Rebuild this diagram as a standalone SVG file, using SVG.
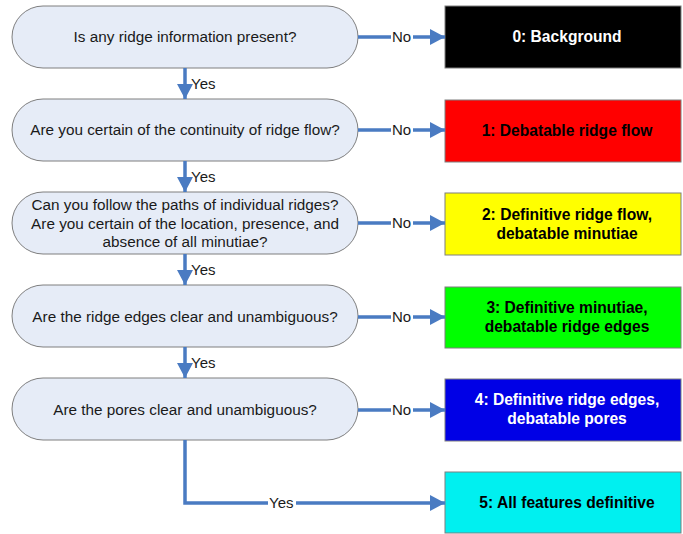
<svg xmlns="http://www.w3.org/2000/svg" width="683" height="534" viewBox="0 0 683 534">
<style>
.pill{fill:#E6ECF7;stroke:#7F7F7F;stroke-width:1}
.q{font-family:"Liberation Sans",Arial,sans-serif;font-size:15.3px;fill:#1a1a1a;text-anchor:middle}
.box{stroke:#7F7F7F;stroke-width:1}
.b{font-family:"Liberation Sans",Arial,sans-serif;font-size:15.6px;font-weight:bold;text-anchor:middle}
.c{fill:none;stroke:#4A7BC2;stroke-width:3.5}
.lab{font-family:"Liberation Sans",Arial,sans-serif;font-size:15px;fill:#1a1a1a}
</style>
<defs>
<marker id="ah" markerUnits="userSpaceOnUse" markerWidth="16" markerHeight="16" viewBox="0 0 16 16" refX="15" refY="8" orient="auto">
<path d="M0,0 L15,8 L0,16 Z" fill="#4A7BC2"/>
</marker>
</defs>
<g id="q1"><rect class="pill" x="12" y="6" width="346" height="62" rx="31"/><text class="q" x="185" y="42">Is any ridge information present?</text></g>
<g id="q2"><rect class="pill" x="12" y="99" width="346" height="62" rx="31"/><text class="q" x="185" y="135">Are you certain of the continuity of ridge flow?</text></g>
<g id="q3"><rect class="pill" x="12" y="192" width="346" height="62" rx="31"/><text class="q" x="185" y="210">Can you follow the paths of individual ridges?</text><text class="q" x="185" y="228.5">Are you certain of the location, presence, and</text><text class="q" x="185" y="247">absence of all minutiae?</text></g>
<g id="q4"><rect class="pill" x="12" y="285" width="346" height="62" rx="31"/><text class="q" x="185" y="322">Are the ridge edges clear and unambiguous?</text></g>
<g id="q5"><rect class="pill" x="12" y="378" width="346" height="62" rx="31"/><text class="q" x="185" y="415">Are the pores clear and unambiguous?</text></g>
<g id="r0"><rect class="box" x="445" y="6" width="236" height="62" fill="#000000"/><text class="b" x="567" y="42" fill="#ffffff">0: Background</text></g>
<g id="r1"><rect class="box" x="445" y="100" width="236" height="62" fill="#FF0000"/><text class="b" x="567" y="136" fill="#000000">1: Debatable ridge flow</text></g>
<g id="r2"><rect class="box" x="445" y="193" width="236" height="62" fill="#FFFF00"/><text class="b" x="567" y="220" fill="#000000">2: Definitive ridge flow,</text><text class="b" x="567" y="239" fill="#000000">debatable minutiae</text></g>
<g id="r3"><rect class="box" x="445" y="287" width="236" height="61" fill="#00FF00"/><text class="b" x="567" y="313" fill="#000000">3: Definitive minutiae,</text><text class="b" x="567" y="332" fill="#000000">debatable ridge edges</text></g>
<g id="r4"><rect class="box" x="445" y="379" width="236" height="62" fill="#0000E6"/><text class="b" x="567" y="405" fill="#ffffff">4: Definitive ridge edges,</text><text class="b" x="567" y="424" fill="#ffffff">debatable pores</text></g>
<g id="r5"><rect class="box" x="445" y="472" width="236" height="61" fill="#00F0F0"/><text class="b" x="567" y="508" fill="#000000">5: All features definitive</text></g>
<g id="connectors">
<path class="c" d="M358,37 H391 M413,37 H445" marker-end="url(#ah)"/>
<path class="c" d="M358,130 H391 M413,130 H445" marker-end="url(#ah)"/>
<path class="c" d="M358,223 H391 M413,223 H445" marker-end="url(#ah)"/>
<path class="c" d="M358,317 H391 M413,317 H445" marker-end="url(#ah)"/>
<path class="c" d="M358,410 H391 M413,410 H445" marker-end="url(#ah)"/>
<path class="c" d="M185,68 V99" marker-end="url(#ah)"/>
<path class="c" d="M185,161 V192" marker-end="url(#ah)"/>
<path class="c" d="M185,254 V285" marker-end="url(#ah)"/>
<path class="c" d="M185,347 V378" marker-end="url(#ah)"/>
<path class="c" d="M185,440 V503 H268 M296,503 H445" marker-end="url(#ah)"/>
<text class="lab" x="392" y="42">No</text>
<text class="lab" x="392" y="135">No</text>
<text class="lab" x="392" y="228">No</text>
<text class="lab" x="392" y="322">No</text>
<text class="lab" x="392" y="415">No</text>
<text class="lab" x="191" y="89">Yes</text>
<text class="lab" x="191" y="182">Yes</text>
<text class="lab" x="191" y="275">Yes</text>
<text class="lab" x="191" y="368">Yes</text>
<text class="lab" x="269" y="508">Yes</text>
</g>
</svg>
